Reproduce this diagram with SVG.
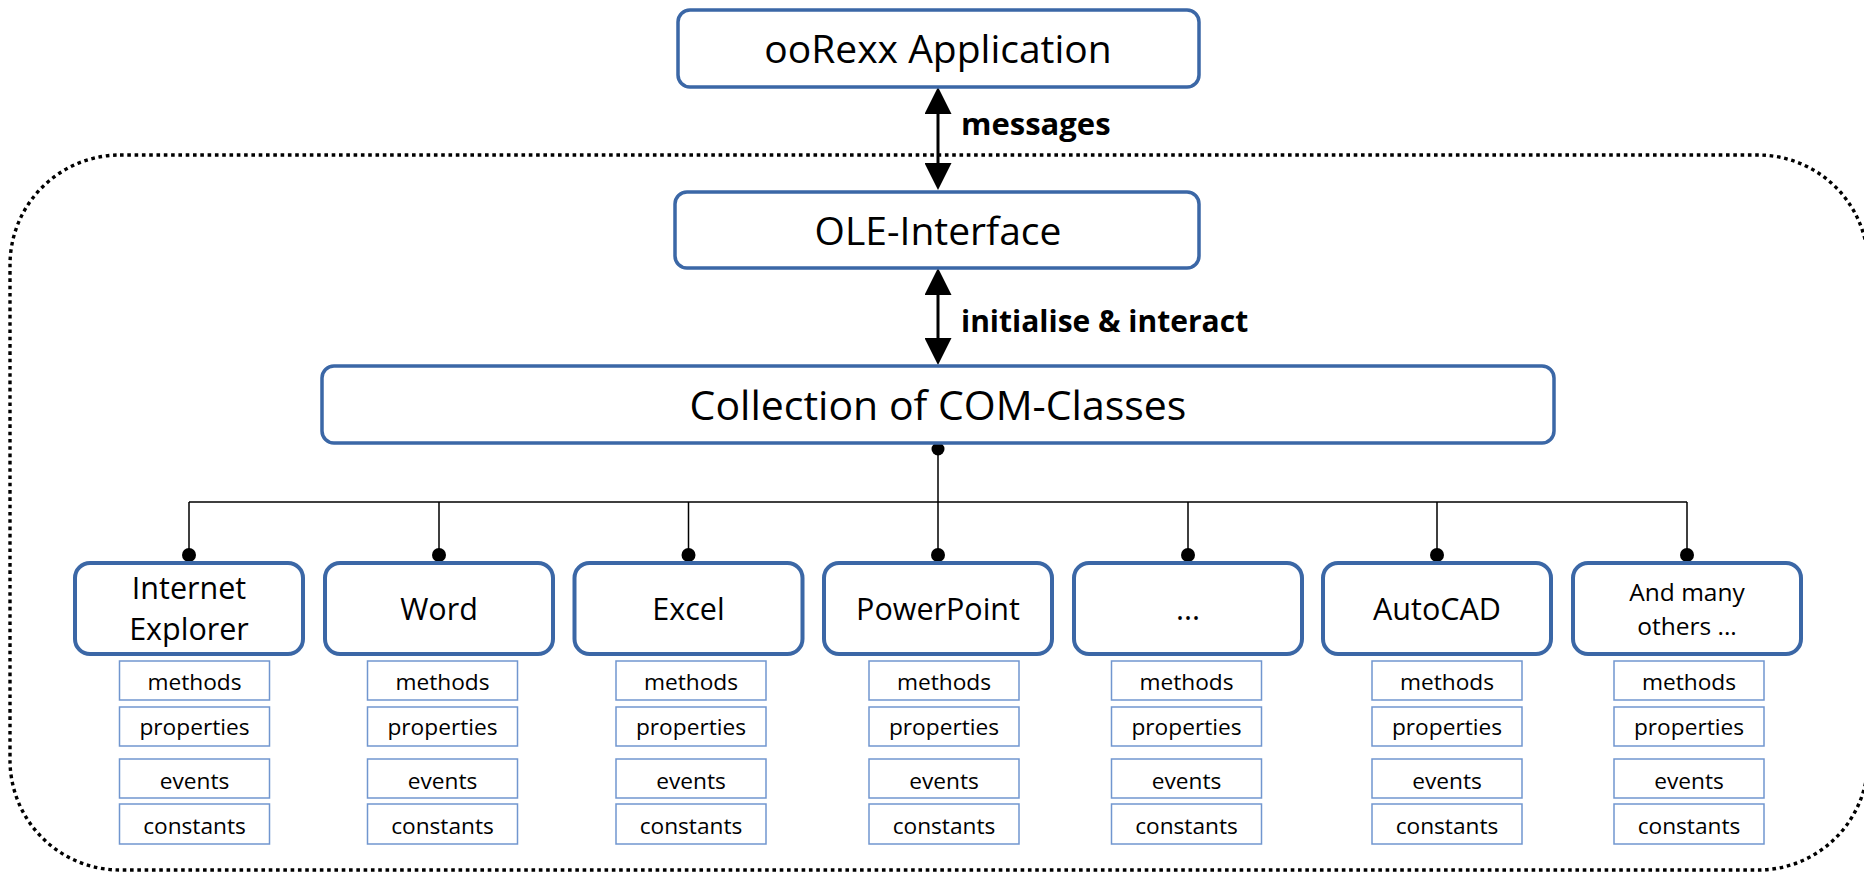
<svg xmlns="http://www.w3.org/2000/svg" width="1864" height="872" viewBox="0 0 1864 872">
<style>
.main{fill:#fff;stroke:#3b67a6;stroke-width:3.5}
.child{fill:#fff;stroke:#3b67a6;stroke-width:4}
.sub{fill:#fff;stroke:#7196cf;stroke-width:1.5}
.t{font-family:"Open Sans","Liberation Sans",sans-serif;fill:#000;text-anchor:middle}
.big{font-size:39px}
.mid{font-size:30.5px}
.sm{font-size:22.7px}
.lbl{font-family:"Open Sans","Liberation Sans",sans-serif;font-weight:bold;fill:#000}
.wire{stroke:#000;stroke-width:1.5;fill:none}
.arr{stroke:#000;stroke-width:3;fill:none}
.dot{fill:#000}
</style>
<defs>
<marker id="ah" viewBox="0 0 27 27" refX="17" refY="13.5" markerWidth="27" markerHeight="27" markerUnits="userSpaceOnUse" orient="auto-start-reverse">
<path d="M0,0 L27,13.5 L0,27 z" fill="#000"/>
</marker>
</defs>
<rect id="boundary" x="10" y="155" width="1858" height="715" rx="110" ry="110" fill="none" stroke="#000" stroke-width="3.4" stroke-dasharray="3.6 3.7"/>
<g id="connectors">
<line class="arr" x1="938" y1="97" x2="938" y2="180" marker-start="url(#ah)" marker-end="url(#ah)"/>
<line class="arr" x1="938" y1="278" x2="938" y2="355" marker-start="url(#ah)" marker-end="url(#ah)"/>
<text class="lbl" font-size="31" x="961" y="135">messages</text>
<text class="lbl" font-size="30" x="961" y="332">initialise &amp; interact</text>
<path class="wire" d="M938,449 V502 M189,502 H1687 M189,502 V555 M439,502 V555 M688.5,502 V555 M938,502 V555 M1188,502 V555 M1437,502 V555 M1687,502 V555"/>
<circle class="dot" cx="938" cy="449" r="6.5"/>
<circle class="dot" cx="189" cy="555" r="7"/>
<circle class="dot" cx="439" cy="555" r="7"/>
<circle class="dot" cx="688.5" cy="555" r="7"/>
<circle class="dot" cx="938" cy="555" r="7"/>
<circle class="dot" cx="1188" cy="555" r="7"/>
<circle class="dot" cx="1437" cy="555" r="7"/>
<circle class="dot" cx="1687" cy="555" r="7"/>
</g>
<g id="ooRexx">
<rect class="main" x="678" y="10" width="521" height="77" rx="12"/>
<text class="t big" x="938" y="63">ooRexx Application</text>
</g>
<g id="ole">
<rect class="main" x="675" y="192" width="524" height="76" rx="12"/>
<text class="t big" x="938" y="245">OLE-Interface</text>
</g>
<g id="collection">
<rect class="main" x="322" y="366" width="1232" height="77" rx="12"/>
<text class="t" font-size="41" x="938" y="420">Collection of COM-Classes</text>
</g>
<g id="ie">
<rect class="child" x="75" y="563" width="228" height="91" rx="15"/>
<text class="t mid" x="189" y="599">Internet</text>
<text class="t mid" x="189" y="640">Explorer</text>
<rect class="sub" x="119.5" y="661" width="150" height="39"/><text class="t sm" x="194.5" y="690">methods</text>
<rect class="sub" x="119.5" y="707" width="150" height="39"/><text class="t sm" x="194.5" y="735">properties</text>
<rect class="sub" x="119.5" y="759" width="150" height="39"/><text class="t sm" x="194.5" y="789">events</text>
<rect class="sub" x="119.5" y="804" width="150" height="40"/><text class="t sm" x="194.5" y="834">constants</text>
</g>
<g id="word">
<rect class="child" x="325" y="563" width="228" height="91" rx="15"/>
<text class="t mid" x="439" y="620">Word</text>
<rect class="sub" x="367.5" y="661" width="150" height="39"/><text class="t sm" x="442.5" y="690">methods</text>
<rect class="sub" x="367.5" y="707" width="150" height="39"/><text class="t sm" x="442.5" y="735">properties</text>
<rect class="sub" x="367.5" y="759" width="150" height="39"/><text class="t sm" x="442.5" y="789">events</text>
<rect class="sub" x="367.5" y="804" width="150" height="40"/><text class="t sm" x="442.5" y="834">constants</text>
</g>
<g id="excel">
<rect class="child" x="574.5" y="563" width="228" height="91" rx="15"/>
<text class="t mid" x="688.5" y="620">Excel</text>
<rect class="sub" x="616" y="661" width="150" height="39"/><text class="t sm" x="691" y="690">methods</text>
<rect class="sub" x="616" y="707" width="150" height="39"/><text class="t sm" x="691" y="735">properties</text>
<rect class="sub" x="616" y="759" width="150" height="39"/><text class="t sm" x="691" y="789">events</text>
<rect class="sub" x="616" y="804" width="150" height="40"/><text class="t sm" x="691" y="834">constants</text>
</g>
<g id="powerpoint">
<rect class="child" x="824" y="563" width="228" height="91" rx="15"/>
<text class="t mid" x="938" y="620">PowerPoint</text>
<rect class="sub" x="869" y="661" width="150" height="39"/><text class="t sm" x="944" y="690">methods</text>
<rect class="sub" x="869" y="707" width="150" height="39"/><text class="t sm" x="944" y="735">properties</text>
<rect class="sub" x="869" y="759" width="150" height="39"/><text class="t sm" x="944" y="789">events</text>
<rect class="sub" x="869" y="804" width="150" height="40"/><text class="t sm" x="944" y="834">constants</text>
</g>
<g id="more">
<rect class="child" x="1074" y="563" width="228" height="91" rx="15"/>
<text class="t mid" x="1188" y="620">...</text>
<rect class="sub" x="1111.5" y="661" width="150" height="39"/><text class="t sm" x="1186.5" y="690">methods</text>
<rect class="sub" x="1111.5" y="707" width="150" height="39"/><text class="t sm" x="1186.5" y="735">properties</text>
<rect class="sub" x="1111.5" y="759" width="150" height="39"/><text class="t sm" x="1186.5" y="789">events</text>
<rect class="sub" x="1111.5" y="804" width="150" height="40"/><text class="t sm" x="1186.5" y="834">constants</text>
</g>
<g id="autocad">
<rect class="child" x="1323" y="563" width="228" height="91" rx="15"/>
<text class="t mid" x="1437" y="620">AutoCAD</text>
<rect class="sub" x="1372" y="661" width="150" height="39"/><text class="t sm" x="1447" y="690">methods</text>
<rect class="sub" x="1372" y="707" width="150" height="39"/><text class="t sm" x="1447" y="735">properties</text>
<rect class="sub" x="1372" y="759" width="150" height="39"/><text class="t sm" x="1447" y="789">events</text>
<rect class="sub" x="1372" y="804" width="150" height="40"/><text class="t sm" x="1447" y="834">constants</text>
</g>
<g id="others">
<rect class="child" x="1573" y="563" width="228" height="91" rx="15"/>
<text class="t" font-size="24.5" x="1687" y="601">And many</text>
<text class="t" font-size="24.5" x="1687" y="635">others ...</text>
<rect class="sub" x="1614" y="661" width="150" height="39"/><text class="t sm" x="1689" y="690">methods</text>
<rect class="sub" x="1614" y="707" width="150" height="39"/><text class="t sm" x="1689" y="735">properties</text>
<rect class="sub" x="1614" y="759" width="150" height="39"/><text class="t sm" x="1689" y="789">events</text>
<rect class="sub" x="1614" y="804" width="150" height="40"/><text class="t sm" x="1689" y="834">constants</text>
</g>
</svg>
